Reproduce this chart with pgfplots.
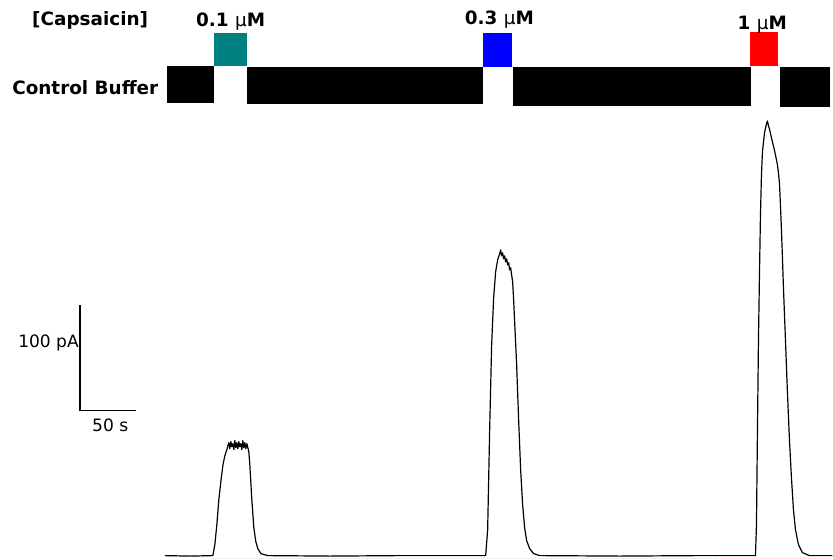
\documentclass[border=0pt]{standalone}
\usepackage{pgfplots}
\pgfplotsset{compat=1.18}
\usepackage{fontspec}
\setmainfont{DejaVu Sans}
\definecolor{tealbox}{RGB}{0,128,128}
\definecolor{bluebox}{RGB}{0,0,255}
\definecolor{redbox}{RGB}{255,0,0}
\begin{document}
\begin{tikzpicture}
\begin{axis}[
  scale only axis, width=624.75pt, height=420pt,
  xmin=0, xmax=833, ymin=0, ymax=560, y dir=reverse,
  hide axis, clip=false,
]
\path (rel axis cs:0,0) rectangle (rel axis cs:1,1);
% control buffer bars
\addplot[fill=black, draw=none] coordinates {(167,66) (214,66) (214,103) (167,103)} -- cycle;
\addplot[fill=black, draw=none] coordinates {(247,67) (483,67) (483,104) (247,104)} -- cycle;
\addplot[fill=black, draw=none] coordinates {(513,67) (752,67) (752,106) (513,106)} -- cycle;
\addplot[fill=black, draw=none] coordinates {(781,67) (831,67) (831,107) (781,107)} -- cycle;
% capsaicin boxes
\addplot[fill=tealbox, draw=none] coordinates {(214,33) (247,33) (247,66) (214,66)} -- cycle;
\addplot[fill=bluebox, draw=none] coordinates {(483,33) (512,33) (512,67) (483,67)} -- cycle;
\addplot[fill=redbox, draw=none] coordinates {(751,32) (779,32) (779,66) (751,66)} -- cycle;
% faint baseline
\addplot[draw=pink!70!red!40, densely dotted, line width=0.5pt] coordinates {(213,558.5) (833,558.5)};
% current trace
\addplot[black, line width=0.9pt, line join=round] coordinates {
(165,556) (190,556.5) (213,556) (215,545) (217,525) (219,500) (221,482) (223,466) (225,456) (227,450)
(228,446) (229,443) (230,449) (231,442) (232,447) (233,444) (234,450) (235,441) (236,448) (237,443)
(238,449) (239,442) (240,447) (241,444) (242,450) (243,441) (244,448) (245,443) (246,449)
(247,444) (248,448) (249,452) (250,465) (252,500) (254,528) (256,542) (258,549) (261,554) (268,556)
(330,556.5) (400,556) (486,556) (488,530) (490,430) (492,345) (494,298) (496,272) (498,260)
(500,254) (501,250) (502,256) (503,253) (504,259) (505,256) (506,262) (507,259) (508,265)
(509,263) (510,270) (511,268) (512,275) (513,282) (514,300) (515,322) (517,365) (519,420) (521,470) (523,505)
(525,528) (527,541) (530,549) (534,554) (540,556) (620,556.5) (700,556) (756,556) (757,525) (758,430)
(759,340) (760,275) (761,215) (762,175) (763,152) (765,133) (767,124) (768,121) (769,126) (770,129) (772,138)
(774,146) (776,155) (778,165) (779,173) (780,183) (781,205) (782,230) (783,258) (784,288) (786,340) (788,393) (790,440) (792,478) (794,510)
(796,530) (799,545) (803,553) (810,556) (833,556)
};
% scale bar
\addplot[black, line width=1.1pt] coordinates {(80,305) (80,411) (136,411)};
% texts
\node[anchor=base west, inner sep=0pt, font=\fontsize{13.8}{16}\selectfont\bfseries] at (axis cs:32,26) {[Capsaicin]};
\node[anchor=base west, inner sep=0pt, font=\fontsize{13.8}{16}\selectfont\bfseries] at (axis cs:196,27) {0.1 {\mdseries μ}M};
\node[anchor=base west, inner sep=0pt, font=\fontsize{13.8}{16}\selectfont\bfseries] at (axis cs:465,25) {0.3 {\mdseries μ}M};
\node[anchor=base west, inner sep=0pt, font=\fontsize{13.8}{16}\selectfont\bfseries] at (axis cs:738,30) {1 {\mdseries μ}M};
\node[anchor=base west, inner sep=0pt, font=\fontsize{13.8}{16}\selectfont\bfseries] at (axis cs:12,95) {Control Buffer};
\node[anchor=base west, inner sep=0pt, font=\fontsize{12.8}{15}\selectfont] at (axis cs:18,348) {100 pA};
\node[anchor=base west, inner sep=0pt, font=\fontsize{12.8}{15}\selectfont] at (axis cs:92,432) {50 s};
\end{axis}
\end{tikzpicture}
\end{document}
